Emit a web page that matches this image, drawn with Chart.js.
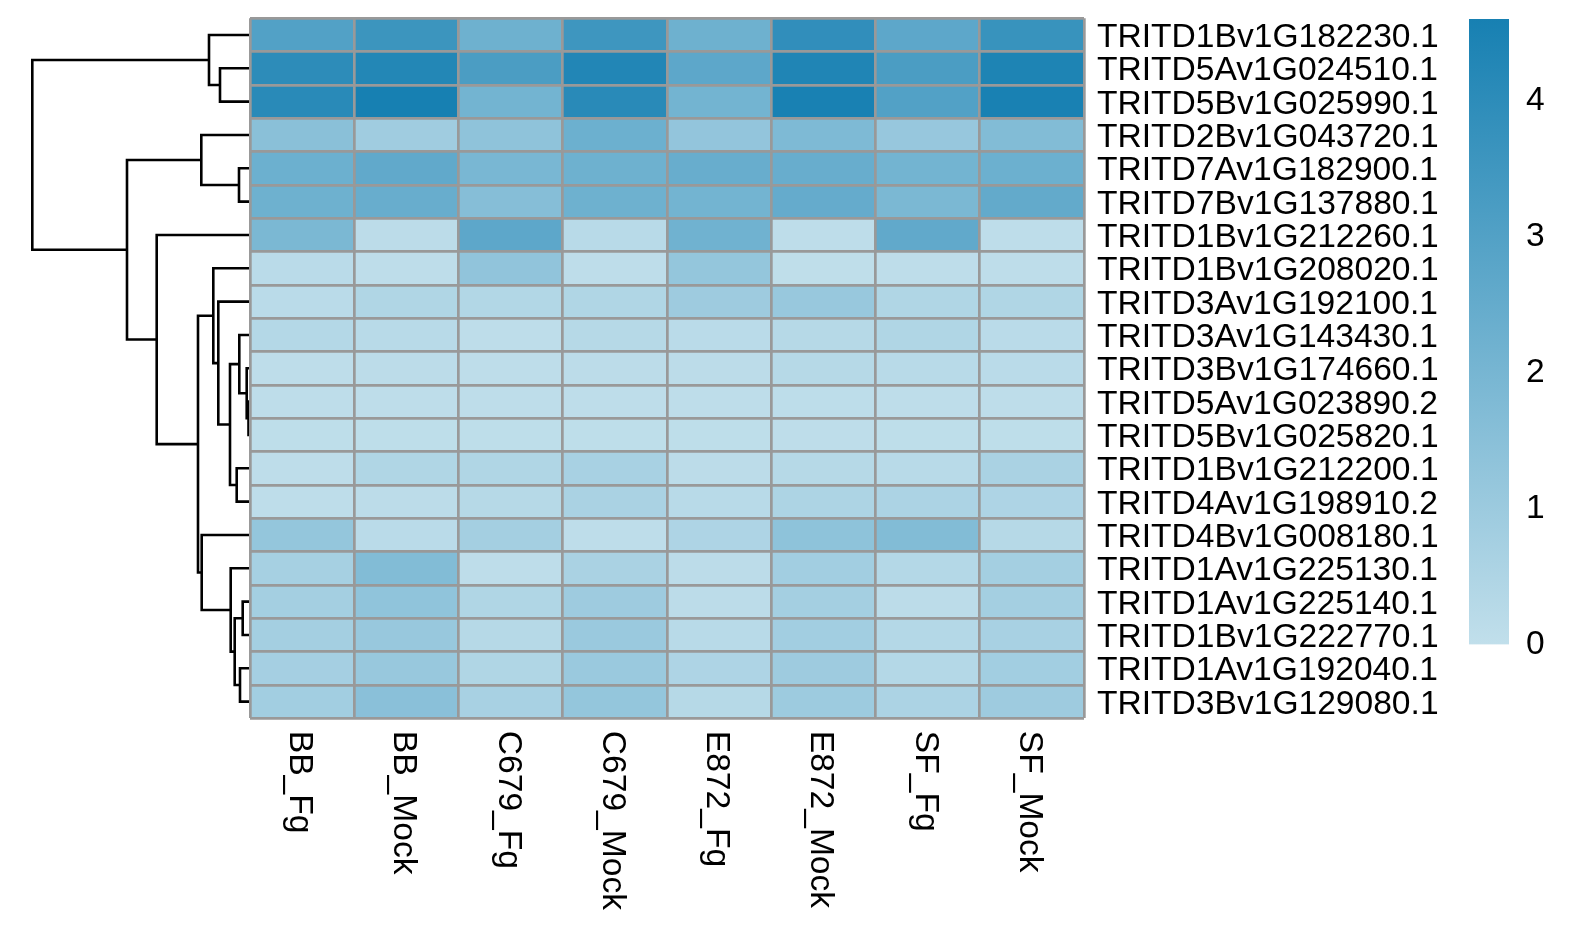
<!DOCTYPE html>
<html>
<head>
<meta charset="utf-8">
<script src="https://cdn.jsdelivr.net/npm/chart.js@4.4.1/dist/chart.umd.min.js"></script>
<style>
html, body { margin: 0; padding: 0; background: #ffffff; }
#wrap { position: relative; width: 1586px; height: 940px; overflow: hidden; }
#wrap canvas { position: absolute; left: 0; top: 0; }
</style>
</head>
<body>
<div id="wrap">
  <canvas id="dendro" width="1586" height="940"></canvas>
  <canvas id="heat" width="1586" height="940"></canvas>
  <canvas id="legend" width="1586" height="940"></canvas>
</div>
<script>
// ---------------- data ----------------
const genes = [
  'TRITD1Bv1G182230.1', 'TRITD5Av1G024510.1', 'TRITD5Bv1G025990.1', 'TRITD2Bv1G043720.1',
  'TRITD7Av1G182900.1', 'TRITD7Bv1G137880.1', 'TRITD1Bv1G212260.1', 'TRITD1Bv1G208020.1',
  'TRITD3Av1G192100.1', 'TRITD3Av1G143430.1', 'TRITD3Bv1G174660.1', 'TRITD5Av1G023890.2',
  'TRITD5Bv1G025820.1', 'TRITD1Bv1G212200.1', 'TRITD4Av1G198910.2', 'TRITD4Bv1G008180.1',
  'TRITD1Av1G225130.1', 'TRITD1Av1G225140.1', 'TRITD1Bv1G222770.1', 'TRITD1Av1G192040.1',
  'TRITD3Bv1G129080.1'
];
const samples = ['BB_Fg', 'BB_Mock', 'C679_Fg', 'C679_Mock', 'E872_Fg', 'E872_Mock', 'SF_Fg', 'SF_Mock'];

// values per sample, in gene (row) order
const BB_Fg     = [3.0, 4.0, 4.1, 1.5, 2.3, 2.25, 1.9, 0.19, 0.19, 0.35, 0.08, 0.08, 0.07, 0.08, 0.08, 1.22, 0.73, 0.78, 0.78, 0.76, 0.84];
const BB_Mock   = [3.6, 4.27, 4.6, 0.9, 2.6, 2.4, 0.13, 0.08, 0.46, 0.24, 0.14, 0.08, 0.07, 0.46, 0.14, 0.19, 1.7, 1.32, 1.11, 1.11, 1.49];
const C679_Fg   = [2.25, 3.2, 2.1, 1.35, 1.95, 1.6, 2.7, 1.3, 0.4, 0.08, 0.08, 0.08, 0.07, 0.46, 0.3, 0.78, 0.08, 0.46, 0.3, 0.46, 0.68];
const C679_Mock = [3.55, 4.3, 4.1, 2.3, 2.25, 2.25, 0.24, 0.08, 0.46, 0.3, 0.14, 0.08, 0.07, 0.68, 0.62, 0.08, 0.62, 0.95, 1.05, 1.05, 1.22];
const E872_Fg   = [2.25, 2.7, 2.1, 1.25, 2.4, 2.1, 2.2, 1.22, 0.95, 0.19, 0.14, 0.08, 0.07, 0.14, 0.24, 0.51, 0.14, 0.14, 0.24, 0.51, 0.3];
const E872_Mock = [3.9, 4.35, 4.55, 1.8, 2.4, 2.5, 0.08, 0.05, 1.1, 0.3, 0.3, 0.1, 0.08, 0.3, 0.54, 1.38, 0.84, 0.78, 0.84, 0.95, 0.97];
const SF_Fg     = [2.7, 3.2, 3.0, 1.15, 2.1, 1.9, 2.6, 0.08, 0.46, 0.46, 0.24, 0.08, 0.07, 0.24, 0.57, 1.7, 0.35, 0.14, 0.35, 0.35, 0.57];
const SF_Mock   = [3.7, 4.4, 4.55, 1.7, 2.3, 2.55, 0.08, 0.08, 0.46, 0.19, 0.19, 0.08, 0.07, 0.62, 0.51, 0.3, 0.78, 0.78, 0.68, 0.84, 0.95];
const columns = [BB_Fg, BB_Mock, C679_Fg, C679_Mock, E872_Fg, E872_Mock, SF_Fg, SF_Mock];

// row dendrogram (hclust style: negative = leaf number in display order, positive = earlier merge)
const mergeLeft   = [-12, -11, -18, -20, -10, -5, -14, 3, -17, 5, -2, -9, -8, -1, -16, -4, 13, -7, 16, 14];
const mergeRight  = [-13, 1, -19, -21, 2, -6, -15, 4, 8, 7, -3, 10, 12, 11, 9, 6, 15, 17, 18, 19];
const mergeHeight = [1.5, 3.3, 7.3, 10, 10.7, 11, 13.3, 15.3, 19.3, 20, 30, 31.7, 36.7, 41, 48.3, 48.7, 52, 93.3, 123, 217.7];

// colour legend
const legendTicks = [0, 1, 2, 3, 4];
const colorLow = [193, 223, 235];
const colorHigh = [23, 128, 178];

// ---------------- helpers ----------------
const FONT = 'Liberation Sans';
const FONT_SIZE = 33.6;
const CAP_HALF = 0.716 * FONT_SIZE / 2;
Chart.defaults.font.family = FONT;
const allValues = columns.flat();
const vMin = 0;
const vMax = Math.max(...allValues);
function colorFor(v) {
  let t = (v - vMin) / (vMax - vMin);
  t = Math.max(0, Math.min(1, t));
  const c = colorLow.map((lo, k) => Math.round(lo + (colorHigh[k] - lo) * t));
  return `rgb(${c[0]},${c[1]},${c[2]})`;
}
function noPad(s) { s.paddingTop = 0; s.paddingBottom = 0; s.paddingLeft = 0; s.paddingRight = 0; }

const TOP = 18.3, BOTTOM = 718.3, H = 940, W = 1586;
const HEAT_LEFT = 250, HEAT_RIGHT = 1084;

// ---------------- dendrogram ----------------
const nodes = [];
function nodeOf(id) {
  if (id < 0) return { h: 0, y: (-id - 1) + 0.5 };
  return nodes[id - 1];
}
const dendroSets = [];
for (let k = 0; k < mergeHeight.length; k++) {
  const a = nodeOf(mergeLeft[k]);
  const b = nodeOf(mergeRight[k]);
  const h = mergeHeight[k];
  dendroSets.push({
    data: [{ x: a.h, y: a.y }, { x: h, y: a.y }, { x: h, y: b.y }, { x: b.h, y: b.y }],
    showLine: true,
    borderColor: '#000000',
    borderWidth: 2.6,
    pointRadius: 0,
    fill: false,
    tension: 0,
    clip: false,
    borderJoinStyle: 'miter'
  });
  nodes.push({ h: h, y: (a.y + b.y) / 2 });
}

new Chart(document.getElementById('dendro'), {
  type: 'scatter',
  data: { datasets: dendroSets },
  options: {
    responsive: false,
    animation: false,
    layout: { padding: { left: 32.3, right: W - HEAT_LEFT, top: TOP, bottom: H - BOTTOM } },
    plugins: { legend: { display: false }, tooltip: { enabled: false } },
    scales: {
      x: { type: 'linear', display: false, reverse: true, min: 0, max: Math.max(...mergeHeight) },
      y: { type: 'linear', display: false, reverse: true, min: 0, max: genes.length }
    }
  }
});

// ---------------- heatmap ----------------
// row labels (right) and column labels (bottom, rotated) placed from the chart's own scales
const axisLabels = {
  id: 'axisLabels',
  afterDraw(chart) {
    const ctx = chart.ctx;
    const xs = chart.scales.x;
    const ys = chart.scales.y;
    ctx.save();
    ctx.font = FONT_SIZE + 'px "' + FONT + '"';
    ctx.fillStyle = '#000000';
    ctx.textBaseline = 'alphabetic';
    ctx.textAlign = 'left';
    genes.forEach((g, i) => {
      const y = ys.getPixelForValue(i);
      ctx.fillText(g, chart.chartArea.right + 13, y + CAP_HALF);
    });
    samples.forEach((s, j) => {
      const x = xs.getPixelForValue(j + 0.5);
      ctx.save();
      ctx.translate(x, chart.chartArea.bottom + 12.5);
      ctx.rotate(Math.PI / 2);
      ctx.fillText(s, 0, CAP_HALF);
      ctx.restore();
    });
    ctx.restore();
  }
};

new Chart(document.getElementById('heat'), {
  type: 'bar',
  data: {
    labels: genes,
    datasets: samples.map((s, j) => ({
      label: s,
      data: genes.map(() => [j, j + 1]),
      backgroundColor: columns[j].map(colorFor),
      borderWidth: 0,
      categoryPercentage: 1,
      barPercentage: 1,
      grouped: false
    }))
  },
  options: {
    indexAxis: 'y',
    responsive: false,
    animation: false,
    layout: { padding: { left: HEAT_LEFT, right: 0, top: TOP, bottom: H - BOTTOM } },
    plugins: { legend: { display: false }, tooltip: { enabled: false } },
    scales: {
      x: {
        type: 'linear', min: 0, max: samples.length, position: 'bottom',
        ticks: { display: false, stepSize: 1 },
        grid: { color: '#999999', lineWidth: 2.7, drawTicks: false, z: 1 },
        border: { display: false },
        afterFit: (s) => { s.height = 0; noPad(s); }
      },
      y: {
        type: 'category', position: 'right', offset: true,
        ticks: { display: false, autoSkip: false },
        grid: { offset: true, color: '#999999', lineWidth: 2.7, drawTicks: false, z: 1 },
        border: { display: false },
        afterFit: (s) => { s.width = W - HEAT_RIGHT; noPad(s); }
      }
    }
  },
  plugins: [axisLabels]
});

// ---------------- colour legend ----------------
const LEG_LEFT = 1469, LEG_RIGHT = 1509, LEG_TOP = 19, LEG_BOTTOM = 644.5;
new Chart(document.getElementById('legend'), {
  type: 'bar',
  data: {
    labels: [''],
    datasets: [{
      data: [vMax],
      borderWidth: 0,
      categoryPercentage: 1,
      barPercentage: 1,
      backgroundColor: (c) => {
        const chart = c.chart;
        if (!chart.chartArea) return colorFor(vMax / 2);
        const ys = chart.scales.y;
        const g = chart.ctx.createLinearGradient(0, ys.getPixelForValue(vMin), 0, ys.getPixelForValue(vMax));
        g.addColorStop(0, colorFor(vMin));
        g.addColorStop(1, colorFor(vMax));
        return g;
      }
    }]
  },
  options: {
    responsive: false,
    animation: false,
    layout: { padding: { left: LEG_LEFT, right: 0, top: LEG_TOP, bottom: H - LEG_BOTTOM } },
    plugins: { legend: { display: false }, tooltip: { enabled: false } },
    scales: {
      x: { type: 'category', display: false },
      y: {
        type: 'linear', position: 'right', min: vMin, max: vMax,
        afterBuildTicks: (s) => { s.ticks = legendTicks.map(v => ({ value: v })); },
        ticks: { padding: 17, color: '#000000', font: { family: FONT, size: FONT_SIZE } },
        grid: { display: false, drawTicks: false },
        border: { display: false },
        afterFit: (s) => { s.width = W - LEG_RIGHT; noPad(s); }
      }
    }
  }
});
</script>
</body>
</html>
